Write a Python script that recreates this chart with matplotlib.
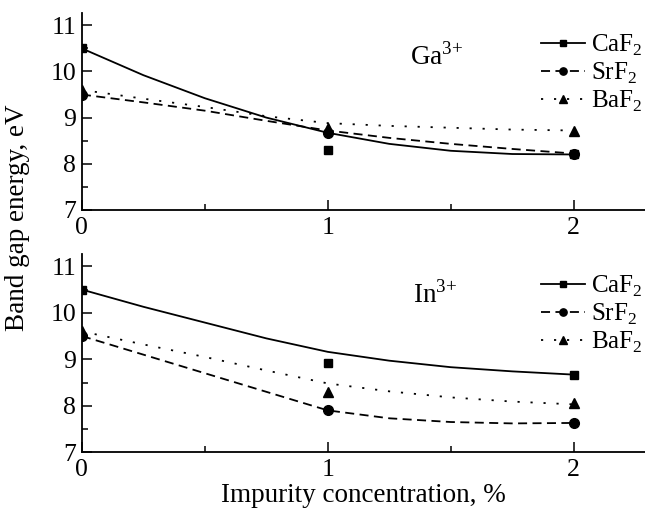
import matplotlib
matplotlib.use("Agg")
import matplotlib.pyplot as plt
from matplotlib.lines import Line2D

plt.rcParams['font.family'] = ['Liberation Serif', 'DejaVu Serif']
plt.rcParams['mathtext.fontset'] = 'custom'
plt.rcParams['mathtext.rm'] = 'Liberation Serif'
plt.rcParams['font.size'] = 16

# measured points
x_pts = [0, 1, 2]
ga_caf2 = [10.5, 8.3, 8.2]
ga_srf2 = [9.5, 8.67, 8.21]
ga_baf2 = [9.6, 8.78, 8.72]
in_caf2 = [10.5, 8.93, 8.67]
in_srf2 = [9.5, 7.9, 7.62]
in_baf2 = [9.6, 8.3, 8.05]

# fitted curves
x_fit = [0, 0.25, 0.5, 0.75, 1.0, 1.25, 1.5, 1.75, 2.0]
ga_caf2_fit = [10.50, 9.92, 9.42, 9.00, 8.67, 8.43, 8.28, 8.21, 8.20]
ga_srf2_fit = [9.50, 9.33, 9.15, 8.93, 8.72, 8.56, 8.43, 8.32, 8.22]
ga_baf2_fit = [9.60, 9.41, 9.23, 9.03, 8.88, 8.82, 8.78, 8.74, 8.72]
in_caf2_fit = [10.50, 10.13, 9.79, 9.45, 9.16, 8.97, 8.83, 8.74, 8.67]
in_srf2_fit = [9.50, 9.10, 8.70, 8.30, 7.90, 7.73, 7.65, 7.62, 7.63]
in_baf2_fit = [9.60, 9.32, 9.05, 8.76, 8.48, 8.31, 8.18, 8.09, 8.03]

names = ['CaF$_\\mathrm{2}$', 'SrF$_\\mathrm{2}$', 'BaF$_\\mathrm{2}$']
markers = ['s', 'o', '^']
msizes = [6, 7, 7.5]
dashes = [None, (5, 3), (1.2, 6)]

fig = plt.figure(figsize=(6.45, 5.18), dpi=100)
ax1 = fig.add_axes([0.127, 0.595, 0.873, 0.38])
ax2 = fig.add_axes([0.127, 0.127, 0.873, 0.383])

panels = [
    (ax1, [ga_caf2, ga_srf2, ga_baf2], [ga_caf2_fit, ga_srf2_fit, ga_baf2_fit], 'Ga$^{3{+}}$', 1.335, 10.33),
    (ax2, [in_caf2, in_srf2, in_baf2], [in_caf2_fit, in_srf2_fit, in_baf2_fit], 'In$^{3{+}}$', 1.345, 10.4),
]

for ax, pts, fits, ion, tx, ty in panels:
    handles = []
    for i in range(3):
        ln, = ax.plot(x_fit, fits[i], color='k', lw=1.3)
        if dashes[i] is not None:
            ln.set_dashes(dashes[i])
        ax.plot(x_pts, pts[i], linestyle='none', marker=markers[i],
                ms=msizes[i], color='k')
        h = Line2D([], [], color='k', lw=1.3, marker=markers[i], ms=msizes[i] * 0.75)
        if dashes[i] is not None:
            h.set_dashes(dashes[i])
        handles.append(h)
    ax.legend(handles, names, loc='upper left', bbox_to_anchor=(0.815, 0.90),
              frameon=False, handlelength=1.75, handletextpad=0.25,
              labelspacing=0.12, borderpad=0, borderaxespad=0, fontsize=18)
    ax.text(tx, ty, ion, fontsize=19.5, va='center')
    ax.set_xlim(0, 2.29)
    ax.set_ylim(7, 11.27)
    ax.set_xticks([0, 1, 2])
    ax.set_xticks([0.5, 1.5], minor=True)
    ax.set_yticks([7, 8, 9, 10, 11])
    ax.set_yticks([7.5, 8.5, 9.5, 10.5], minor=True)
    ax.spines['top'].set_visible(False)
    ax.spines['right'].set_visible(False)
    for s in ['left', 'bottom']:
        ax.spines[s].set_linewidth(1.3)
    ax.tick_params(which='major', direction='in', length=7, width=1.1, labelsize=18.5)
    ax.tick_params(which='minor', direction='in', length=4.5, width=1.1)
    ax.tick_params(axis='x', pad=5)
    ax.tick_params(axis='y', pad=4)

ax2.set_xlabel('Impurity concentration, %', fontsize=19.5, labelpad=1)
fig.text(0.027, 0.58, 'Band gap energy, eV', rotation=90, fontsize=19.5,
         ha='center', va='center')

fig.savefig('out.png', dpi=100)
